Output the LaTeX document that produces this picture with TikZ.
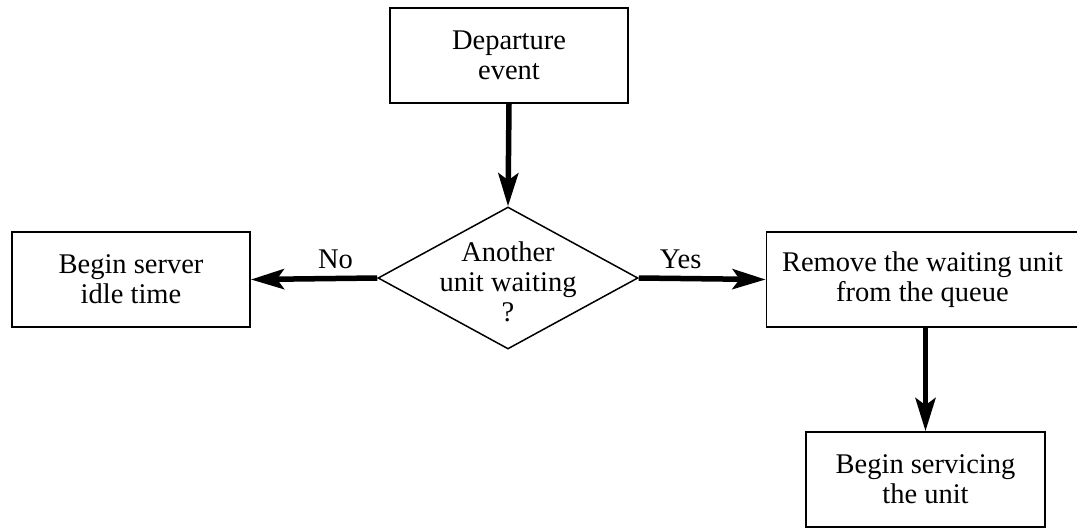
\documentclass[tikz,border=0pt]{standalone}
\usepackage{fontspec}
\setmainfont{Liberation Serif}
\usetikzlibrary{arrows.meta,shapes.geometric}
\begin{document}
\begin{tikzpicture}[x=1pt,y=-1pt,
  txt/.style={font=\fontsize{28.5}{30}\selectfont},
  box/.style={draw,line width=1.8pt,fill=white,inner sep=0pt,align=center,txt},
  flow/.style={line width=5.5pt,-{Stealth[length=33pt,width=20pt,inset=7pt]}}]
\useasboundingbox (0,0) rectangle (1077,528);
\node[box,minimum width=238pt,minimum height=95pt] (dep) at (509,55.5) {Departure\\event};
\node[draw,line width=1.5pt,diamond,aspect=1.83,inner sep=0pt,minimum width=260pt,minimum height=142pt] (dec) at (508,278) {};
\node[align=center,txt] (dectext) at (508,282) {Another\\unit waiting\\?};
\node[box,minimum width=238pt,minimum height=95pt] (idle) at (131,279.5) {Begin server\\idle time};
\node[box,minimum width=312pt,minimum height=95pt] (rem) at (922.5,279.5) {Remove the waiting unit\\from the queue};
\node[box,minimum width=239pt,minimum height=95pt] (serv) at (925.5,479.5) {Begin servicing\\the unit};
\draw[flow] (dep.south) -- (dec.north);
\draw[flow] (dec.west) -- (idle.east) node[txt,pos=0.33,above=4pt] (no) {No};
\draw[flow] (dec.east) -- (rem.west) node[txt,pos=0.33,above=4pt] (yes) {Yes};
\draw[flow] (rem.south -| serv.north) -- (serv.north);
\end{tikzpicture}
\end{document}
